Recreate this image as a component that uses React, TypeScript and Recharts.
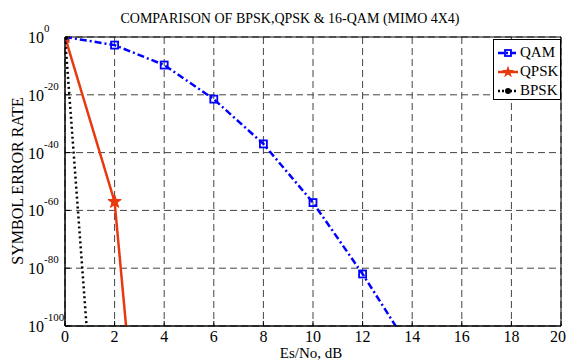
import { CartesianGrid, Legend, Line, LineChart, ReferenceArea, XAxis, YAxis } from 'recharts';

// Es/No points (dB) and log10 of the symbol error rate for each scheme
const snrDb = [0, 2, 4, 6, 8, 10, 12, 14];
const qamLogSer = [0, -2.8, -9.7, -21.5, -37, -57.3, -82, -109];
const qpskLogSer = [0, -57, -243];
const bpskLogSer = [0, -230];

const xTicks = [0, 2, 4, 6, 8, 10, 12, 14, 16, 18, 20];
const yTicks = [0, -20, -40, -60, -80, -100];
const seriesNames = ['QAM', 'QPSK', 'BPSK'];

const FONT = '"Liberation Serif", "Times New Roman", serif';
const BLUE = '#0000ff';
const RED = '#e8380d';
const TICK_BASE_RIGHT = 44; // where the "10" of the y labels ends

const data = snrDb.map((x, i) => ({
  x,
  qam: qamLogSer[i],
  qpsk: qpskLogSer[i],
  bpsk: bpskLogSer[i]
}));

const starPath = (cx: number, cy: number, R: number, r: number) => {
  let d = '';
  for (let i = 0; i < 10; i++) {
    const a = -Math.PI / 2 + (i * Math.PI) / 5;
    const rad = i % 2 ? r : R;
    d += (i ? 'L' : 'M') + (cx + rad * Math.cos(a)).toFixed(2) + ',' + (cy + rad * Math.sin(a)).toFixed(2);
  }
  return d + 'Z';
};

const SquareDot = (props: any) => {
  const { cx, cy, index } = props;
  if (cx == null || cy == null) return <g key={`sq-${index}`} />;
  return <rect key={`sq-${index}`} x={cx - 3.5} y={cy - 3.5} width={7} height={7} fill='none' stroke={BLUE} strokeWidth={1.8} />;
};

const StarDot = (props: any) => {
  const { cx, cy, index } = props;
  if (cx == null || cy == null) return <g key={`st-${index}`} />;
  return <path key={`st-${index}`} d={starPath(cx, cy, 7, 2.8)} fill={RED} stroke={RED} strokeWidth={1} />;
};

const CircleDot = (props: any) => {
  const { cx, cy, index } = props;
  if (cx == null || cy == null) return <g key={`ci-${index}`} />;
  return <circle key={`ci-${index}`} cx={cx} cy={cy} r={3} fill='#000' stroke='#000' />;
};

// "10" with the exponent as a superscript, the base right-aligned like MATLAB
const PowerTick = ({ y, payload }: any) => (
  <g>
    <text x={TICK_BASE_RIGHT} y={y + 6} textAnchor='end' fontFamily={FONT} fontSize={16} fill='#000'>
      10
    </text>
    <text x={TICK_BASE_RIGHT} y={y - 5} textAnchor='start' fontFamily={FONT} fontSize={11} fill='#000'>
      {payload.value}
    </text>
  </g>
);

const LegendBox = () => (
  <div
    style={{
      border: '1px solid #000',
      background: '#fff',
      width: 68,
      height: 61,
      boxSizing: 'border-box',
      padding: '3px 0 0 3px',
      fontFamily: FONT,
      fontSize: 15,
      lineHeight: '19px',
      color: '#000'
    }}>
    {seriesNames.map((name, i) => (
      <div key={name} style={{ display: 'flex', alignItems: 'center', height: 19 }}>
        <svg width={22} height={14} style={{ marginRight: 1 }}>
          {i === 0 && (
            <g>
              <line x1={1} y1={7} x2={21} y2={7} stroke={BLUE} strokeWidth={2.5} strokeDasharray='6 2 2 2' />
              <rect x={8} y={4} width={6} height={6} fill='none' stroke={BLUE} strokeWidth={1.8} />
            </g>
          )}
          {i === 1 && (
            <g>
              <line x1={1} y1={7} x2={21} y2={7} stroke={RED} strokeWidth={2.5} />
              <path d={starPath(11, 7, 6.5, 2.6)} fill={RED} />
            </g>
          )}
          {i === 2 && (
            <g>
              <line x1={1} y1={7} x2={21} y2={7} stroke='#000' strokeWidth={2.5} strokeDasharray='2 2' />
              <circle cx={11} cy={7} r={3} fill='#000' />
            </g>
          )}
        </svg>
        <span>{name}</span>
      </div>
    ))}
  </div>
);

export default function App() {
  return (
    <div style={{ position: 'absolute', left: 0, top: 0, width: 566, height: 360, background: '#fff', fontFamily: FONT }}>
      <div
        style={{
          position: 'absolute',
          left: 290,
          top: 19,
          transform: 'translate(-50%, -50%)',
          whiteSpace: 'nowrap',
          fontSize: 14,
          color: '#000'
        }}>
        COMPARISON OF BPSK,QPSK &amp; 16-QAM (MIMO 4X4)
      </div>
      <div
        style={{
          position: 'absolute',
          left: 18,
          top: 181,
          transform: 'translate(-50%, -50%) rotate(-90deg)',
          whiteSpace: 'nowrap',
          fontSize: 16,
          color: '#000'
        }}>
        SYMBOL ERROR RATE
      </div>
      <div
        style={{
          position: 'absolute',
          left: 311,
          top: 353,
          transform: 'translate(-50%, -50%)',
          whiteSpace: 'nowrap',
          fontSize: 15,
          lineHeight: '15px',
          color: '#000'
        }}>
        Es/No, dB
      </div>
      <LineChart width={566} height={360} data={data} margin={{ top: 37, right: 5, left: 8, bottom: 4 }}>
        <CartesianGrid stroke='#444' strokeDasharray='7 4' strokeWidth={1} />
        <XAxis
          dataKey='x'
          type='number'
          domain={[0, 20]}
          ticks={xTicks}
          allowDataOverflow
          height={30}
          axisLine={{ stroke: '#000' }}
          tickLine={{ stroke: '#000' }}
          tickSize={-5}
          tickMargin={10}
          tick={{ fontFamily: FONT, fontSize: 16, fill: '#000' }}
        />
        <YAxis
          type='number'
          domain={[-100, 0]}
          ticks={yTicks}
          allowDataOverflow
          width={57}
          axisLine={{ stroke: '#000' }}
          tickLine={{ stroke: '#000' }}
          tickSize={-5}
          tickMargin={5}
          tick={<PowerTick />}
        />
        <ReferenceArea x1={0} x2={20} y1={-100} y2={0} fill='none' stroke='#000' strokeWidth={1} />
        <Line
          dataKey='qam'
          stroke={BLUE}
          strokeWidth={2.5}
          strokeDasharray='7 3 2 3'
          dot={SquareDot}
          activeDot={false}
          isAnimationActive={false}
        />
        <Line dataKey='qpsk' stroke={RED} strokeWidth={2.5} dot={StarDot} activeDot={false} isAnimationActive={false} />
        <Line
          dataKey='bpsk'
          stroke='#000'
          strokeWidth={2.5}
          strokeDasharray='2 3'
          dot={CircleDot}
          activeDot={false}
          isAnimationActive={false}
        />
        <Legend
          verticalAlign='middle'
          align='center'
          layout='horizontal'
          content={<LegendBox />}
          wrapperStyle={{ position: 'absolute', left: 493, top: 39, width: 68, height: 61 }}
        />
      </LineChart>
    </div>
  );
}
